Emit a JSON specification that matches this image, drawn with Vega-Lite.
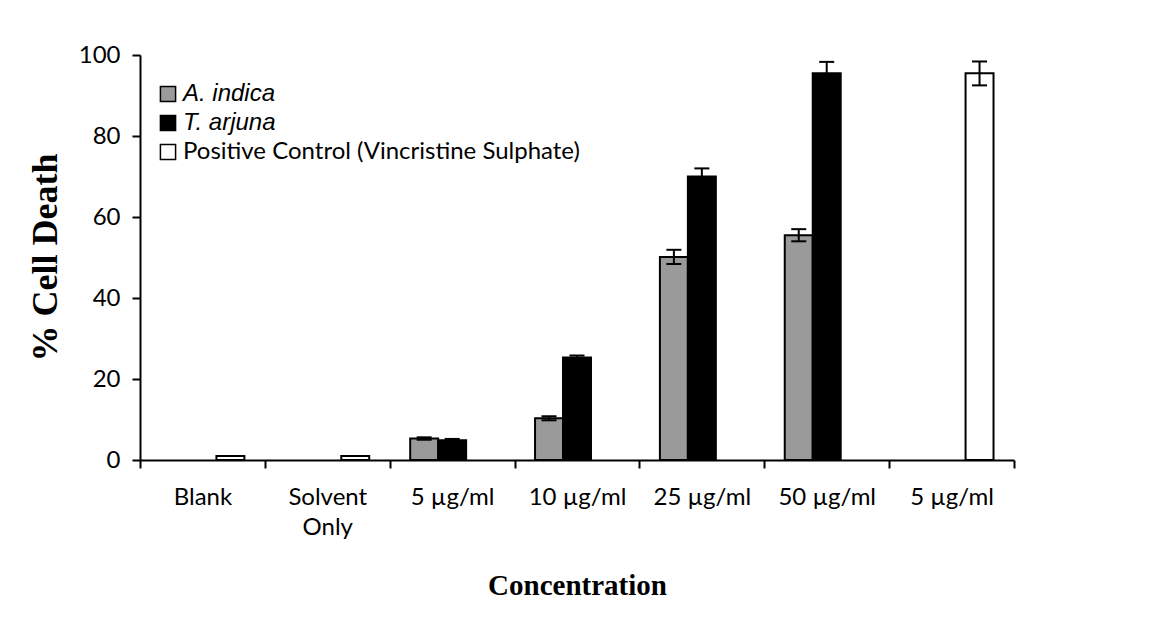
{
  "$schema": "https://vega.github.io/schema/vega-lite/v6.json",
  "autosize": "none",
  "width": 874,
  "height": 405,
  "padding": {"left": 140, "top": 55, "right": 153, "bottom": 158},
  "background": "white",
  "config": {"view": {"stroke": null}},
  "data": {"values": [
    {"cat": "Blank", "series": "Positive Control (Vincristine Sulphate)", "value": 1},
    {"cat": "Solvent Only", "series": "Positive Control (Vincristine Sulphate)", "value": 1},
    {"cat": "5 µg/ml", "series": "A. indica", "value": 5.3, "lo": 5.0, "hi": 5.6},
    {"cat": "5 µg/ml", "series": "T. arjuna", "value": 4.9, "lo": 4.6, "hi": 5.2},
    {"cat": "10 µg/ml", "series": "A. indica", "value": 10.3, "lo": 9.8, "hi": 10.8},
    {"cat": "10 µg/ml", "series": "T. arjuna", "value": 25.3, "lo": 24.8, "hi": 25.8},
    {"cat": "25 µg/ml", "series": "A. indica", "value": 50.1, "lo": 48.4, "hi": 51.9},
    {"cat": "25 µg/ml", "series": "T. arjuna", "value": 70, "lo": 68, "hi": 72},
    {"cat": "50 µg/ml", "series": "A. indica", "value": 55.5, "lo": 54, "hi": 57},
    {"cat": "50 µg/ml", "series": "T. arjuna", "value": 95.5, "lo": 92.7, "hi": 98.3},
    {"cat": "5 µg/ml PC", "series": "Positive Control (Vincristine Sulphate)", "value": 95.5, "lo": 92.5, "hi": 98.4}
  ]},
  "encoding": {
    "x": {
      "field": "cat", "type": "nominal",
      "sort": ["Blank", "Solvent Only", "5 µg/ml", "10 µg/ml", "25 µg/ml", "50 µg/ml", "5 µg/ml PC"],
      "scale": {"paddingInner": 0, "paddingOuter": 0},
      "axis": {
        "title": "Concentration",
        "titleFont": "Liberation Serif", "titleFontWeight": "bold", "titleFontSize": 29, "titleColor": "black",
        "titleY": 125, "titleBaseline": "middle",
        "labelAngle": 0,
        "labelExpr": "datum.value == 'Solvent Only' ? ['Solvent', 'Only'] : (datum.value == '5 µg/ml PC' ? '5 µg/ml' : datum.value)",
        "labelFont": "Lato", "labelFontSize": 24, "labelColor": "black", "labelLineHeight": 30,
        "labelPadding": 29, "labelBaseline": "middle",
        "tickBand": "extent", "tickSize": 8, "tickColor": "black", "tickWidth": 2,
        "domainColor": "black", "domainWidth": 2
      }
    },
    "xOffset": {
      "field": "series", "type": "nominal",
      "sort": ["A. indica", "T. arjuna", "Positive Control (Vincristine Sulphate)"],
      "scale": {"domain": ["A. indica", "T. arjuna", "Positive Control (Vincristine Sulphate)"], "paddingInner": 0, "paddingOuter": 0.732}
    }
  },
  "layer": [
    {
      "mark": {"type": "bar", "stroke": "black", "strokeWidth": 2},
      "encoding": {
        "y": {
          "field": "value", "type": "quantitative",
          "scale": {"domain": [0, 100], "nice": false},
          "axis": {
            "title": "% Cell Death",
            "titleFont": "Liberation Serif", "titleFontWeight": "bold", "titleFontSize": 36, "titleColor": "black",
            "titleX": -95, "titleY": 202, "titleAngle": -90, "titleAlign": "center", "titleBaseline": "middle",
            "values": [0, 20, 40, 60, 80, 100], "grid": false,
            "labelFont": "Lato", "labelFontSize": 24, "labelColor": "black", "labelPadding": 12,
            "tickSize": 8, "tickColor": "black", "tickWidth": 2,
            "domainColor": "black", "domainWidth": 2
          }
        },
        "fill": {
          "field": "series", "type": "nominal",
          "scale": {"domain": ["A. indica", "T. arjuna", "Positive Control (Vincristine Sulphate)"], "range": ["#9a9a9a", "#000000", "#ffffff"]},
          "legend": {
            "title": null, "orient": "none", "legendX": 16, "legendY": 27,
            "padding": 0, "offset": 0,
            "symbolType": "square", "symbolSize": 230, "symbolStrokeColor": "black", "symbolStrokeWidth": 1.5,
            "labelFontSize": 24, "labelColor": "black", "labelOffset": 3, "rowPadding": 5,
            "labelFont": {"expr": "indexof(datum.label, 'Positive') >= 0 ? 'Lato' : 'Liberation Sans'"},
            "labelFontStyle": {"expr": "indexof(datum.label, 'Positive') >= 0 ? 'normal' : 'italic'"},
            "labelLimit": 700
          }
        }
      }
    },
    {
      "transform": [{"filter": "isValid(datum.hi)"}],
      "mark": {"type": "rule", "color": "black", "strokeWidth": 2},
      "encoding": {
        "y": {"field": "lo", "type": "quantitative"},
        "y2": {"field": "hi"}
      }
    },
    {
      "transform": [{"filter": "isValid(datum.hi)"}],
      "mark": {"type": "tick", "color": "black", "thickness": 2, "size": 15, "opacity": 1},
      "encoding": {"y": {"field": "hi", "type": "quantitative"}}
    },
    {
      "transform": [{"filter": "isValid(datum.lo)"}],
      "mark": {"type": "tick", "color": "black", "thickness": 2, "size": 15, "opacity": 1},
      "encoding": {"y": {"field": "lo", "type": "quantitative"}}
    }
  ]
}
